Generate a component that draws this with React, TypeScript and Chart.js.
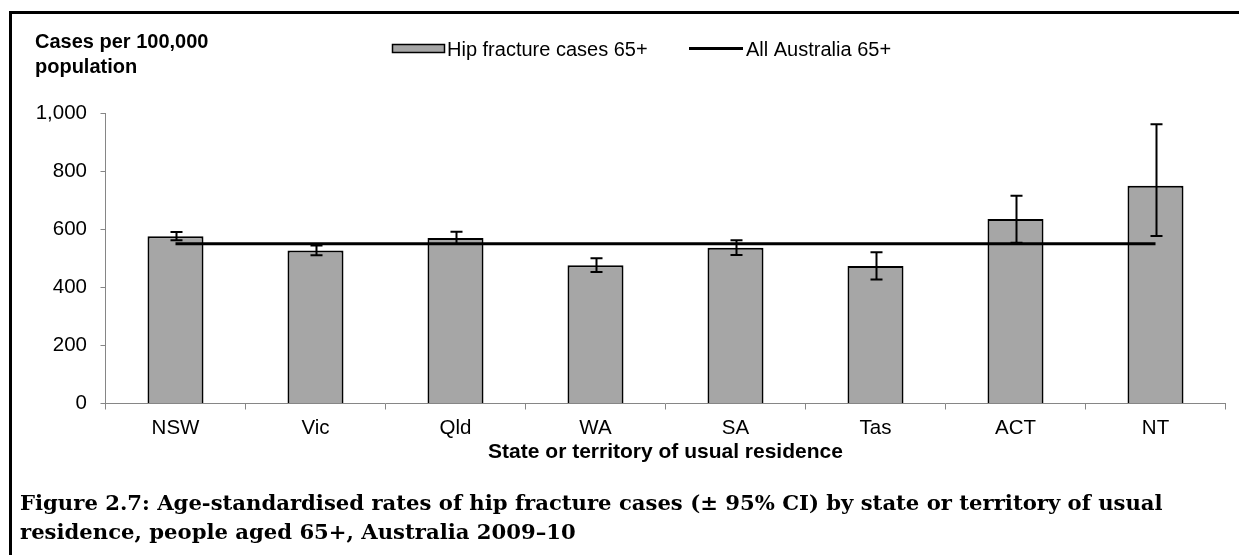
import React, { useEffect, useRef } from "react";
import { Chart, registerables } from "chart.js";

Chart.register(...registerables);

const categories = ["NSW", "Vic", "Qld", "WA", "SA", "Tas", "ACT", "NT"];
const hipFractureRates = [576, 527, 570, 476, 536, 473, 635, 750];
const ciLower = [562, 510, 549, 453, 511, 427, 553, 577];
const ciUpper = [590, 544, 591, 500, 562, 521, 715, 961];
const allAustralia = [550, 550, 550, 550, 550, 550, 550, 550];
const yTicks = [0, 200, 400, 600, 800, 1000];

const barLabel = "Hip fracture cases 65+";
const lineLabel = "All Australia 65+";
const yTitleLines = ["Cases per 100,000", "population"];
const xTitle = "State or territory of usual residence";
const captionLines = [
  "Figure 2.7: Age-standardised rates of hip fracture cases (± 95% CI) by state or territory of usual",
  "residence, people aged 65+, Australia 2009–10",
];

const SANS = "'Liberation Sans', Arial, sans-serif";
const SERIF = "'DejaVu Serif', 'Liberation Serif', serif";
const BAR_FILL = "#A6A6A6";
const AXIS_GRAY = "#868686";
const TICK_SIZE = 20.5;

const errorBarPlugin = {
  id: "errorBars",
  afterDatasetsDraw(chart: any) {
    const meta = chart.getDatasetMeta(0);
    const y = chart.scales.y;
    const ctx = chart.ctx;
    ctx.save();
    ctx.strokeStyle = "#000";
    ctx.lineWidth = 2;
    meta.data.forEach((bar: any, i: number) => {
      const x = Math.round(bar.x) + 0.5;
      const yHi = y.getPixelForValue(ciUpper[i]);
      const yLo = y.getPixelForValue(ciLower[i]);
      ctx.beginPath();
      ctx.moveTo(x, yHi);
      ctx.lineTo(x, yLo);
      ctx.moveTo(x - 6, yHi);
      ctx.lineTo(x + 6, yHi);
      ctx.moveTo(x - 6, yLo);
      ctx.lineTo(x + 6, yLo);
      ctx.stroke();
    });
    ctx.restore();
  },
};

const decorPlugin = {
  id: "decor",
  beforeDraw(chart: any) {
    const ctx = chart.ctx;
    ctx.save();
    ctx.fillStyle = "#fff";
    ctx.fillRect(0, 0, chart.width, chart.height);
    ctx.restore();
  },
  afterDraw(chart: any) {
    const ctx = chart.ctx;
    ctx.save();
    // frame
    ctx.strokeStyle = "#000";
    ctx.lineWidth = 3;
    ctx.beginPath();
    ctx.moveTo(10.5, chart.height + 5);
    ctx.lineTo(10.5, 12.5);
    ctx.lineTo(chart.width + 5, 12.5);
    ctx.stroke();

    // y title
    ctx.fillStyle = "#000";
    ctx.font = `bold 20px ${SANS}`;
    ctx.textAlign = "left";
    ctx.textBaseline = "alphabetic";
    ctx.fillText(yTitleLines[0], 35, 48);
    ctx.fillText(yTitleLines[1], 35, 73);

    // legend
    ctx.font = `20px ${SANS}`;
    ctx.fillStyle = BAR_FILL;
    ctx.fillRect(392.5, 44.5, 52, 8);
    ctx.strokeStyle = "#000";
    ctx.lineWidth = 1.5;
    ctx.strokeRect(392.5, 44.5, 52, 8);
    ctx.fillStyle = "#000";
    ctx.fillText(barLabel, 447, 56);
    ctx.lineWidth = 3;
    ctx.beginPath();
    ctx.moveTo(689, 48.5);
    ctx.lineTo(743, 48.5);
    ctx.stroke();
    ctx.fillText(lineLabel, 746, 56);

    // caption
    const target = 1143;
    let size = 20;
    ctx.font = `bold ${size}px ${SERIF}`;
    const w = ctx.measureText(captionLines[0]).width;
    size = Math.max(12, Math.min(30, (size * target) / w));
    ctx.font = `bold ${size}px ${SERIF}`;
    ctx.fillText(captionLines[0], 20, 510);
    ctx.fillText(captionLines[1], 20, 539);
    ctx.restore();
  },
};

export default function App() {
  const ref = useRef<HTMLCanvasElement>(null);

  useEffect(() => {
    if (!ref.current) return;
    const chart = new Chart(ref.current, {
      type: "bar",
      data: {
        labels: categories,
        datasets: [
          {
            type: "bar",
            label: barLabel,
            data: hipFractureRates,
            backgroundColor: BAR_FILL,
            borderColor: "#000",
            borderWidth: 2,
            categoryPercentage: 1,
            barPercentage: 0.4,
            order: 2,
          },
          {
            type: "line",
            label: lineLabel,
            data: allAustralia,
            borderColor: "#000",
            borderWidth: 3,
            pointRadius: 0,
            fill: false,
            order: 1,
          } as any,
        ],
      },
      options: {
        responsive: false,
        animation: false,
        devicePixelRatio: 1,
        layout: { padding: { top: 113, right: 13.5, bottom: 0, left: 0 } },
        plugins: {
          legend: { display: false },
          title: { display: false },
          tooltip: { enabled: false },
        },
        scales: {
          x: {
            grid: {
              display: true,
              drawOnChartArea: false,
              drawTicks: true,
              tickLength: 6,
              color: AXIS_GRAY,
              offset: true,
            },
            border: { color: AXIS_GRAY, width: 1 },
            ticks: {
              color: "#000",
              font: { family: SANS, size: TICK_SIZE },
              padding: 6.5,
              maxRotation: 0,
            },
            title: {
              display: true,
              text: xTitle,
              color: "#000",
              font: { family: SANS, size: 21, weight: "bold" },
              padding: { top: 0, bottom: 90 },
            },
            afterFit(scale: any) {
              scale.height = 151.5;
            },
          },
          y: {
            min: 0,
            max: 1000,
            afterBuildTicks(scale: any) {
              scale.ticks = yTicks.map((v) => ({ value: v }));
            },
            grid: {
              display: true,
              drawOnChartArea: false,
              drawTicks: true,
              tickLength: 5,
              color: AXIS_GRAY,
            },
            border: { color: AXIS_GRAY, width: 1 },
            ticks: {
              color: "#000",
              font: { family: SANS, size: TICK_SIZE },
              padding: 13.5,
              callback: (v: any) => Number(v).toLocaleString("en-US"),
            },
            afterFit(scale: any) {
              scale.width = 105.5;
            },
          },
        },
      },
      plugins: [errorBarPlugin, decorPlugin],
    });
    return () => chart.destroy();
  }, []);

  return (
    <div style={{ position: "absolute", left: 0, top: 0, width: 1239, height: 555 }}>
      <canvas ref={ref} width={1239} height={555} style={{ width: 1239, height: 555, display: "block" }} />
    </div>
  );
}
